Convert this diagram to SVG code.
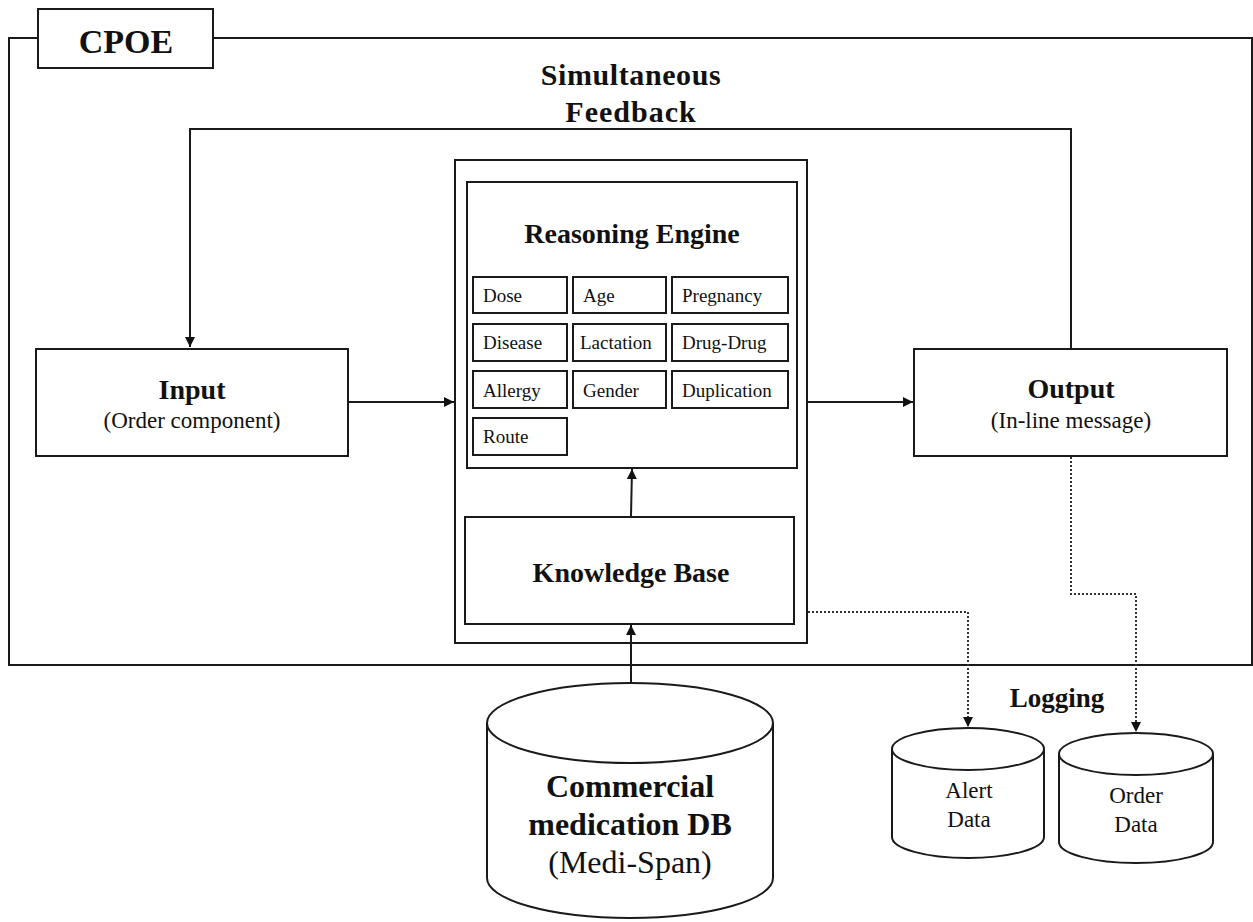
<svg xmlns="http://www.w3.org/2000/svg" width="1253" height="922" viewBox="0 0 1253 922">
  <style>
    .box { fill: #fff; stroke: #1a1a1a; stroke-width: 2; }
    .line { fill: none; stroke: #1a1a1a; stroke-width: 2; }
    .dot { fill: none; stroke: #333; stroke-width: 2; stroke-dasharray: 2 2; }
    .t { font-family: "Liberation Serif", "Times New Roman", serif; fill: #111; }
    .b { font-weight: bold; }
    .c { text-anchor: middle; }
    .item { font-size: 19px; }
  </style>
  <defs>
    <marker id="arr" viewBox="0 0 10 10" refX="10" refY="5" markerWidth="12" markerHeight="10" markerUnits="userSpaceOnUse" orient="auto">
      <path d="M0,0 L10,5 L0,10 Z" fill="#111"/>
    </marker>
    <marker id="arrSmall" viewBox="0 0 10 10" refX="10" refY="5" markerWidth="10" markerHeight="10" markerUnits="userSpaceOnUse" orient="auto">
      <path d="M0,0 L10,5 L0,10 Z" fill="#111"/>
    </marker>
  </defs>
  <rect width="1253" height="922" fill="#fff"/>

  <!-- CPOE boundary frame -->
  <g id="cpoe-frame">
    <path class="line" d="M38,38 H9 V665 H1252 V38 H213"/>
    <rect class="box" x="38" y="9" width="175" height="59"/>
    <text class="t b c" x="126" y="53" font-size="34">CPOE</text>
  </g>

  <!-- Feedback label -->
  <g id="feedback-label">
    <text class="t b c" x="631" y="85" font-size="30" letter-spacing="0.6">Simultaneous</text>
    <text class="t b c" x="631" y="122" font-size="30" letter-spacing="1">Feedback</text>
  </g>

  <!-- Input -->
  <g id="input">
    <rect class="box" x="36" y="349" width="312" height="107"/>
    <text class="t b c" x="192" y="399" font-size="28">Input</text>
    <text class="t c" x="192" y="428" font-size="23">(Order component)</text>
  </g>

  <!-- Output -->
  <g id="output">
    <rect class="box" x="914" y="349" width="313" height="107"/>
    <text class="t b c" x="1071" y="398" font-size="28">Output</text>
    <text class="t c" x="1071" y="428" font-size="23">(In-line message)</text>
  </g>

  <!-- Decision support core -->
  <g id="cds-core">
    <rect class="box" x="455" y="160" width="352" height="483"/>
  </g>

  <!-- Reasoning engine and its checks -->
  <g id="reasoning-engine">
    <rect class="box" x="467" y="182" width="330" height="286"/>
    <text class="t b c" x="632" y="243" font-size="28">Reasoning Engine</text>
    <rect class="box" x="473" y="277" width="94" height="36"/>
    <rect class="box" x="573" y="277" width="93" height="36"/>
    <rect class="box" x="672" y="277" width="116" height="36"/>
    <rect class="box" x="473" y="324" width="94" height="37"/>
    <rect class="box" x="573" y="324" width="93" height="37"/>
    <rect class="box" x="672" y="324" width="116" height="37"/>
    <rect class="box" x="473" y="371" width="94" height="37"/>
    <rect class="box" x="573" y="371" width="93" height="37"/>
    <rect class="box" x="672" y="371" width="116" height="37"/>
    <rect class="box" x="473" y="418" width="94" height="37"/>
    <text class="t item" x="483" y="302">Dose</text>
    <text class="t item" x="583" y="302">Age</text>
    <text class="t item" x="682" y="302">Pregnancy</text>
    <text class="t item" x="483" y="349">Disease</text>
    <text class="t item" x="580" y="349">Lactation</text>
    <text class="t item" x="682" y="349">Drug-Drug</text>
    <text class="t item" x="483" y="397">Allergy</text>
    <text class="t item" x="583" y="397">Gender</text>
    <text class="t item" x="682" y="397">Duplication</text>
    <text class="t item" x="483" y="443">Route</text>
  </g>

  <!-- Knowledge base -->
  <g id="knowledge-base">
    <rect class="box" x="465" y="517" width="329" height="107"/>
    <text class="t b c" x="631" y="582" font-size="28">Knowledge Base</text>
  </g>

  <!-- Commercial medication database -->
  <g id="medication-db">
    <path class="box" d="M487,723 V878 A143,40 0 0 0 773,878 V723"/>
    <ellipse class="box" cx="630" cy="723" rx="143" ry="40"/>
    <text class="t b c" x="630" y="797" font-size="32">Commercial</text>
    <text class="t b c" x="630" y="835" font-size="32">medication DB</text>
    <text class="t c" x="630" y="873" font-size="32">(Medi-Span)</text>
  </g>

  <!-- Logging stores -->
  <g id="logging-label">
    <text class="t b c" x="1057" y="707" font-size="27">Logging</text>
  </g>
  <g id="alert-data">
    <path class="box" d="M892,749 V837 A76,21 0 0 0 1044,837 V749"/>
    <ellipse class="box" cx="968" cy="749" rx="76" ry="21"/>
    <text class="t c" x="969" y="798" font-size="23">Alert</text>
    <text class="t c" x="969" y="827" font-size="23">Data</text>
  </g>
  <g id="order-data">
    <path class="box" d="M1059,754 V842 A77,21 0 0 0 1213,842 V754"/>
    <ellipse class="box" cx="1136" cy="754" rx="77" ry="21"/>
    <text class="t c" x="1136" y="803" font-size="23">Order</text>
    <text class="t c" x="1136" y="832" font-size="23">Data</text>
  </g>

  <!-- Connectors, drawn on top of the node fills -->
  <g id="connectors">
    <path class="line" d="M1071,349 V129 H190 V347" marker-end="url(#arr)"/>
    <path class="line" d="M348,402 H454" marker-end="url(#arr)"/>
    <path class="line" d="M807,402 H913" marker-end="url(#arr)"/>
    <path class="line" d="M631,516 L632,469" marker-end="url(#arr)"/>
    <path class="line" d="M631,682 V625" marker-end="url(#arr)"/>
    <path class="dot" d="M808,612 H968 V727" marker-end="url(#arrSmall)"/>
    <path class="dot" d="M1071,457 V594 H1136 V732" marker-end="url(#arrSmall)"/>
  </g>
</svg>
